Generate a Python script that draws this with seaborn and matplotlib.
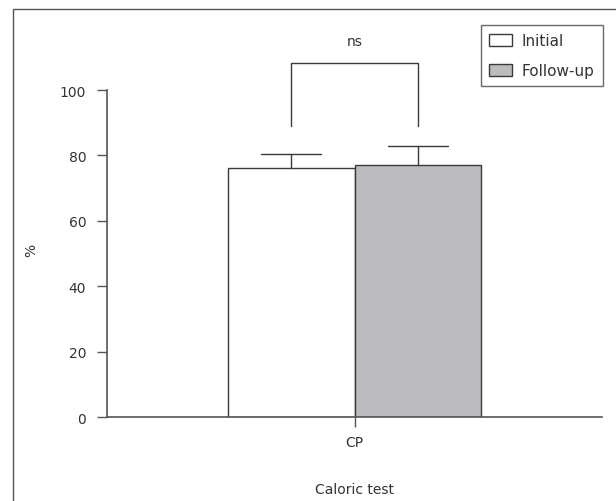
import pandas as pd
import matplotlib.pyplot as plt
import seaborn as sns
from matplotlib.patches import Rectangle

# Data
test = ["CP", "CP"]
visit = ["Initial", "Follow-up"]
mean_pct = [76.2, 77.0]
sd_pct = [4.4, 5.9]
y_ticks = [0, 20, 40, 60, 80, 100]

df = pd.DataFrame({"test": test, "visit": visit, "pct": mean_pct})

sns.set_style("white")
plt.rcParams["font.family"] = ["DejaVu Sans"]
text_col = "#333333"
line_col = "#555555"
bar_edge = "#3a3a3a"

fig = plt.figure(figsize=(6.16, 5.02), dpi=100)
ax = fig.add_axes([107 / 616, 1 - 418 / 502, 495 / 616, 0.814])

sns.barplot(data=df, x="test", y="pct", hue="visit", hue_order=visit,
            palette=["white", "#bbbcc0"], errorbar=None, width=0.8,
            edgecolor=bar_edge, linewidth=1.0, ax=ax)

# upper-only error bars (T shape)
centers = [p.get_x() + p.get_width() / 2 for p in ax.patches[:2]]
cap = 0.095
for cx, m, s in zip(centers, mean_pct, sd_pct):
    ax.plot([cx, cx], [m, m + s], color=bar_edge, lw=1.0)
    ax.plot([cx - cap, cx + cap], [m + s, m + s], color=bar_edge, lw=1.0)

# significance bracket
ax.plot([centers[0], centers[0], centers[1], centers[1]], [89, 108.3, 108.3, 89],
        color=bar_edge, lw=1.0)
ax.text(0, 113, "ns", ha="center", va="bottom", fontsize=10, color=text_col)

ax.set_xlim(-0.78, 0.78)
ax.set_ylim(0, 125)
ax.set_yticks(y_ticks)
ax.spines["left"].set_bounds(0, 100)
for side in ["top", "right"]:
    ax.spines[side].set_visible(False)
for side in ["left", "bottom"]:
    ax.spines[side].set_color(line_col)
    ax.spines[side].set_linewidth(1.2)
ax.tick_params(axis="both", direction="out", length=7, width=1.0, bottom=True,
               left=True, color=line_col, labelsize=10, labelcolor=text_col, pad=8)
ax.tick_params(axis="x", pad=6)
ax.set_xlabel("Caloric test", fontsize=10, color=text_col)
ax.set_ylabel("%", fontsize=10, color=text_col)
ax.xaxis.set_label_coords(0.5, -0.159)
ax.yaxis.set_label_coords(-0.139, 0.41)

leg = ax.legend(loc="upper left", bbox_to_anchor=(481 / 616, 1 - 26 / 502),
                bbox_transform=fig.transFigure, borderaxespad=0, fancybox=False,
                frameon=True, fontsize=11, handlelength=1.5, handleheight=0.85,
                labelspacing=0.95, handletextpad=0.6, borderpad=0.55)
leg.get_frame().set_edgecolor("#444444")
leg.get_frame().set_linewidth(1.0)
for t in leg.get_texts():
    t.set_color(text_col)

# outer frame (partly cut by the image edge)
fig.patches.append(Rectangle((13 / 616, -0.05), 1.1, 1.05 - 10 / 502,
                             transform=fig.transFigure, fill=False,
                             edgecolor="#555555", linewidth=1.0))

fig.savefig("out.png", dpi=100)
